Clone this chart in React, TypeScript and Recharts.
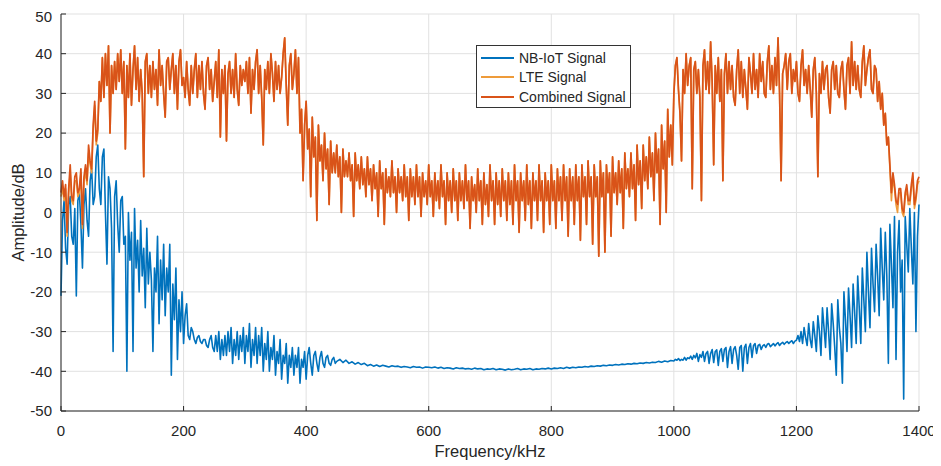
import { LineChart, Line, XAxis, YAxis, CartesianGrid, Legend } from "recharts";

const FONT = '"Liberation Sans", Arial, Helvetica, sans-serif';
const INK = "#262626";

const freqTicks = [0, 200, 400, 600, 800, 1000, 1200, 1400];
const ampTicks = [-50, -40, -30, -20, -10, 0, 10, 20, 30, 40, 50];
const legendOrder = ["NB-IoT Signal", "LTE Signal", "Combined Signal"];

// NB-IoT signal (dB). 2.5 kHz spacing except the flat 450-995 kHz stretch (5 kHz)
const nb0 = [-21, -2, 3, -9, -13, 2, 4, -6, -8, 1, -21, 3, 5, -3, -14, 2, 6, -2, -6, 8, 11, 2, 4, 14, 17, 6, 2, 14, 16, 0, -13, 9, 6, -4, -35, 4, 8, -3, -10, 3];
const nb100 = [4, -8, -6, -40, 0, -12, -5, -35, 1, -14, -7, -20, -2, -16, -9, -24, -4, -18, -10, -17, -35, -14, -20, -6, -28, -12, -22, -8, -26, -14, -20, -8, -41, -18, -27, -14, -37, -22, -30, -20];
const nb200 = [-33, -26, -23, -31, -32, -29, -30, -32, -33, -31.5, -31, -32.5, -33, -32, -32, -33.5, -34, -32, -31, -34, -35, -31, -35, -30, -37, -32, -36, -31, -36, -30, -35, -29, -38, -32, -36, -30, -37, -31, -35, -29];
const nb300 = [-38, -31, -35, -28, -39, -32, -36, -29, -38, -31, -36, -29, -40, -33, -37, -30, -40, -34, -37, -31, -41, -35, -38, -32, -42, -36, -38, -33, -43, -36, -39, -34, -41, -36, -39, -34, -43, -37, -39, -35];
const nb400 = [-42, -36, -34, -38, -41, -36, -35, -38, -40, -36.5, -35, -38, -39, -36.5, -36, -38, -38.5, -37, -36.5, -38];
const nbFlat = [
  -37.5, -37, -37.8, -37.2, -38, -37.6, -38.2, -37.8, -38.3, -38,
  -38.6, -38.3, -38.7, -38.4, -38.8, -38.5, -38.7, -38.9, -38.6, -38.8, -38.7, -39, -38.8, -38.9, -39.1, -38.8, -39, -38.9, -39.2, -38.9,
  -39, -39.1, -38.9, -39.2, -39, -39.3, -39.1, -39.2, -39.4, -39.1, -39.3, -39.2, -39.4, -39.3, -39.5, -39.2, -39.4, -39.3, -39.6, -39.4,
  -39.5, -39.3, -39.6, -39.4, -39.5, -39.7, -39.4, -39.6, -39.5, -39.3, -39.6, -39.4, -39.5, -39.3, -39.6, -39.4, -39.5, -39.3, -39.4, -39.2,
  -39.4, -39.2, -39.3, -39.1, -39.3, -39, -39.2, -39, -39.1, -38.9, -39, -38.8, -38.9, -38.7, -38.8, -38.6, -38.7, -38.5, -38.6, -38.4,
  -38.5, -38.3, -38.4, -38.2, -38.3, -38.1, -38.2, -38, -38.1, -37.9, -38, -37.8, -37.9, -37.7, -37.8, -37.5, -37.7, -37.4, -37.6, -37.3,
];
const nb1000 = [-37.4, -37, -37.2, -36.8, -37.3, -37, -37.2, -36.5, -37.2, -36.6, -36.8, -36.2, -37, -36, -36.6, -35.5, -37.5, -35.8, -36.5, -35, -37.5, -35.5, -35, -38, -35.5, -34.5, -37.8, -35, -34.6, -38.5, -35, -34.3, -37.5, -34.5, -34, -39, -35, -33.8, -38, -34.5];
const nb1100 = [-33.8, -36, -39.5, -34, -33.5, -40, -34, -33.2, -38, -34, -33, -36.5, -33.5, -33, -35.5, -33.5, -33.2, -34.5, -33.6, -33.3, -34, -33.2, -33, -33.8, -33.4, -33, -33.6, -33.1, -32.8, -33.5, -33, -32.7, -33.2, -32.8, -32.5, -33, -32.6, -32.3, -33, -32.4];
const nb1200 = [-32.2, -31, -32.5, -30, -33, -29, -31.5, -33.5, -28, -32, -34, -27.5, -31, -35, -26, -30, -36, -24, -29, -34, -24, -30, -37, -23, -28, -34, -41, -22, -29, -33, -43, -20, -27, -35, -19, -26, -34, -18, -25, -33];
const nb1300 = [-16, -24, -33, -14, -22, -30, -10, -20, -29, -9, -18, -25, -8, -16, -26, -4, -14, -22, -5, -16, -38, -3, -13, -24, -1, -37, -10, -2, -20, -12, -47, -1, -8, -15, 1, -9, -18, 0, -30, -6, 2];

// LTE / combined signal (dB), 2.5 kHz spacing
const lte0 = [4, 6, 3, 6, -6, 5, 10, 3, 2, 8, 8, 4, 5, 10, -4, 8, 10, 7, 15, 12, 10, 21, 27, 17, 20, 33, 28, 39, 29, 40, 32, 42, 20, 37, 30, 38, 31, 40, 33, 41];
const band100 = [30, 38, 16, 37, 29, 40, 27, 36, 42, 31, 39, 28, 36, 30, 9, 38, 40, 30, 37, 29, 38, 31, 36, 27, 41, 32, 37, 30, 24, 38, 39, 31, 36, 40, 30, 37, 26, 38, 41, 32];
const band200 = [34, 29, 38, 31, 27, 37, 30, 36, 40, 29, 37, 31, 38, 30, 26, 37, 39, 31, 36, 28, 33, 38, 29, 41, 19, 36, 30, 37, 18, 35, 38, 30, 36, 29, 40, 31, 27, 37, 32, 36];
const band300 = [33, 38, 30, 39, 25, 36, 31, 38, 41, 30, 37, 29, 17, 36, 31, 38, 30, 40, 35, 28, 38, 31, 37, 30, 34, 40, 44, 32, 22, 37, 40, 31, 35, 41, 30, 39, 20, 26, 8, 22];
const band400 = [28, 16, 21, 4, 24, 14, 19, -2, 22, 13, 17, 8, 20, 11, 16, 2, 18, 10, 15, 10, 17, 9, 14, 0, 16, 9, 13, 9, 15, 8, 12, -1, 15, 8, 12, 6, 14, 7, 11, 4];
const band500 = [14, 7, 11, 3, 12, 6, 10, -1, 13, 6, 10, -3, 11, 5, 9, 4, 13, 5, 9, 0, 11, 5, 9, 3, 12, 4, 9, -2, 11, 4, 9, 2, 12, 4, 9, -1, 10, 4, 8, 2];
const band600 = [12, 4, 8, -1, 10, 3, 8, 1, 12, 4, 8, -3, 10, 3, 8, 0, 11, 3, 8, -2, 10, 3, 8, 1, 12, 3, 8, -4, 9, 3, 7, 0, 11, 3, 8, -3, 10, 2, 7, -1];
const band700 = [12, 3, 8, -3, 10, 2, 8, -1, 11, 3, 8, -2, 10, 2, 8, -3, 12, 3, 8, -5, 10, 3, 8, -2, 12, 2, 8, -4, 10, 3, 8, -2, 12, 3, 8, -5, 10, 3, 8, -3];
const band800 = [12, 3, 8, -4, 11, 3, 9, -2, 12, 3, 9, -6, 11, 3, 9, -3, 12, 3, 9, -7, 12, 4, 9, -3, 13, 4, 9, -8, 12, 4, 9, -11, 13, 4, 10, -10, 12, 5, 10, -6];
const band900 = [14, 5, 10, 2, 13, 5, 11, -4, 15, 6, 11, 4, 15, 6, 12, -2, 17, 7, 13, 1, 17, 8, 14, 6, 19, 9, 15, 3, 20, 10, 16, -3, 22, 11, 18, 0, 26, 14, 22, 12];
const band1000 = [30, 37, 39, 31, 25, 13, 36, 30, 40, 32, 37, 39, 6, 36, 38, 30, 36, 29, 3, 37, 41, 31, 38, 30, 43, 33, 12, 37, 30, 39, 28, 36, 8, 35, 40, 30, 38, 31, 37, 29];
const band1100 = [27, 36, 41, 30, 38, 29, 36, 31, 26, 39, 35, 30, 40, 31, 36, 29, 40, 33, 38, 30, 29, 38, 42, 31, 37, 30, 39, 32, 44, 30, 8, 35, 37, 40, 31, 38, 40, 30, 36, 33];
const band1200 = [38, 30, 28, 37, 41, 32, 36, 30, 37, 31, 24, 36, 39, 30, 9, 35, 30, 38, 31, 36, 37, 29, 25, 36, 38, 31, 37, 30, 29, 36, 38, 31, 26, 37, 39, 30, 43, 32, 38, 31];
const lte1300 = [37, 31, 29, 38, 42, 32, 36, 39, 41, 31, 30, 37, 36, 28, 33, 26, 30, 22, 25, 17, 19, 11, 3, 9, 6, 2, 0, 5, 5, 0, -1, 4, 6, 2, 2, 6, 9, 1, 3, 7, 8];

// combined signal: equal to LTE except near the band edges where NB-IoT adds power
const combined0 = [5, 8, 4, 7, -5, 6, 12, 4, 3, 9, 10, 5, 6, 11, -3, 9, 12, 8, 17, 13, 11, 22, 28, 18, 21, 33, 28, 39, 29, 40, 32, 42, 20, 37, 30, 38, 31, 40, 33, 41];
const combined1300 = [37, 31, 29, 38, 42, 32, 36, 39, 41, 31, 30, 37, 36, 28, 33, 26, 30, 22, 25, 17, 19, 12, 5, 10, 7, 3, 2, 6, 6, 1, 0, 5, 7, 3, 3, 7, 10, 2, 4, 8, 9];

type Pt = { freq: number; value: number };
function seg(start: number, step: number, values: number[]): Pt[] {
  return values.map((v, i) => ({ freq: start + i * step, value: v }));
}

const nbIotData = [
  ...seg(0, 2.5, [...nb0, ...nb100, ...nb200, ...nb300, ...nb400]),
  ...seg(450, 5, nbFlat),
  ...seg(1000, 2.5, [...nb1000, ...nb1100, ...nb1200, ...nb1300]),
];
const bandMid = [...band100, ...band200, ...band300, ...band400, ...band500, ...band600, ...band700, ...band800, ...band900, ...band1000, ...band1100, ...band1200];
const lteData = seg(0, 2.5, [...lte0, ...bandMid, ...lte1300]);
const combinedData = seg(0, 2.5, [...combined0, ...bandMid, ...combined1300]);

const tickStyle = { fill: INK, fontSize: 15, fontFamily: FONT };

function YTitle(props: any) {
  const vb = props.viewBox || { x: 0, y: 6, width: 53, height: 397 };
  const x = vb.x + 15.5;
  const y = vb.y + vb.height / 2;
  return (
    <text x={x} y={y} transform={`rotate(-90 ${x} ${y})`} textAnchor="middle" fill={INK} fontSize={16.5} fontFamily={FONT}>
      Amplitude/dB
    </text>
  );
}

function XTitle(props: any) {
  const vb = props.viewBox || { x: 53, y: 403, width: 858, height: 55 };
  return (
    <text x={vb.x + vb.width / 2} y={vb.y + 46} textAnchor="middle" fill={INK} fontSize={16.5} fontFamily={FONT}>
      Frequency/kHz
    </text>
  );
}

function LegendBox(props: any) {
  const items = [...(props.payload || [])].sort(
    (a: any, b: any) => legendOrder.indexOf(a.value) - legendOrder.indexOf(b.value)
  );
  return (
    <div
      style={{
        width: 155,
        height: 63,
        boxSizing: "border-box",
        border: "1px solid #333",
        background: "#fff",
        padding: "2px 0 0 4px",
        fontFamily: FONT,
        fontSize: 14,
        color: INK,
      }}
    >
      {items.map((it: any) => (
        <div key={it.value} style={{ display: "flex", alignItems: "center", height: 19.5 }}>
          <span style={{ display: "inline-block", width: 33, borderTop: `2px solid ${it.color}`, marginRight: 5 }} />
          <span>{it.value}</span>
        </div>
      ))}
    </div>
  );
}

export default function App() {
  return (
    <LineChart width={933} height={458} margin={{ top: 6, right: 22, bottom: 0, left: 0 }}>
      <CartesianGrid stroke="#e1e1e1" />
      <XAxis
        dataKey="freq"
        type="number"
        domain={[0, 1400]}
        ticks={freqTicks}
        height={55}
        tickSize={-5}
        tickMargin={19}
        tick={tickStyle}
        axisLine={{ stroke: INK }}
        tickLine={{ stroke: INK }}
        label={<XTitle />}
      />
      <XAxis
        xAxisId="top"
        orientation="top"
        dataKey="freq"
        type="number"
        domain={[0, 1400]}
        ticks={freqTicks}
        height={0}
        tickSize={-5}
        tick={false}
        axisLine={{ stroke: INK }}
        tickLine={{ stroke: INK }}
      />
      <YAxis
        type="number"
        domain={[-50, 50]}
        ticks={ampTicks}
        width={53}
        tickSize={-5}
        tickMargin={14}
        tick={tickStyle}
        axisLine={{ stroke: INK }}
        tickLine={{ stroke: INK }}
        label={<YTitle />}
      />
      <YAxis
        yAxisId="right"
        orientation="right"
        type="number"
        domain={[-50, 50]}
        ticks={ampTicks}
        width={0}
        tickSize={-5}
        tick={false}
        axisLine={{ stroke: INK }}
        tickLine={{ stroke: INK }}
      />
      <Legend
        layout="vertical"
        align="center"
        verticalAlign="middle"
        wrapperStyle={{ left: 468, top: 37, width: 155 }}
        content={<LegendBox />}
      />
      <Line data={nbIotData} name="NB-IoT Signal" dataKey="value" stroke="#0072BD" strokeWidth={1.6} strokeLinejoin="round" dot={false} type="linear" isAnimationActive={false} />
      <Line data={lteData} name="LTE Signal" dataKey="value" stroke="#EE9B3A" strokeWidth={1.6} strokeLinejoin="round" dot={false} type="linear" isAnimationActive={false} />
      <Line data={combinedData} name="Combined Signal" dataKey="value" stroke="#D95319" strokeWidth={1.7} strokeLinejoin="round" dot={false} type="linear" isAnimationActive={false} />
    </LineChart>
  );
}
